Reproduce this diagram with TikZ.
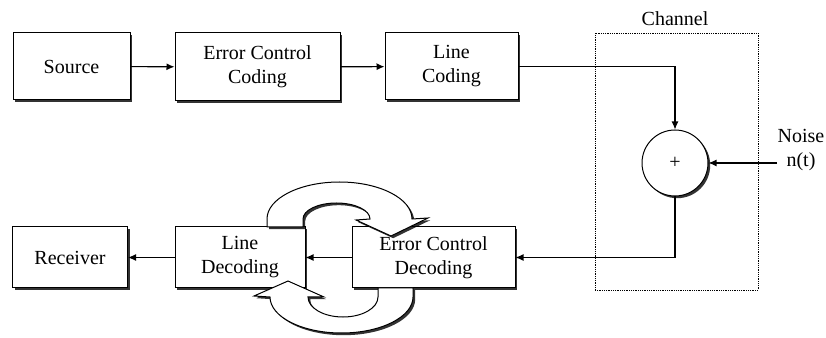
\documentclass[tikz,border=0pt]{standalone}
\usepackage{fontspec}
\setmainfont{Liberation Serif}
\usetikzlibrary{arrows.meta,shadows}
\tikzset{
  shade drop/.style={drop shadow={shadow xshift=2.2pt,shadow yshift=-2.2pt,fill=black,opacity=0.8}},
  txt/.style={font=\fontsize{20}{24}\selectfont,align=center,inner sep=0pt},
  block/.style={txt,draw=black,line width=1pt,fill=white,shade drop},
  link/.style={line width=1.1pt,-{Latex[length=8pt,width=7pt]}},
  bend arrow/.style={draw=black,line width=1pt,fill=white,shade drop},
}
\begin{document}
\begin{tikzpicture}[x=1pt,y=1pt]
\useasboundingbox (0,0) rectangle (826,337);

% transmitter chain
\node[block,minimum width=117pt,minimum height=67pt] (src) at (71.5,270.5) {Source};
\node[block,minimum width=165pt,minimum height=68pt] (ecc) at (257.5,270) {Error Control\\Coding};
\node[block,minimum width=133pt,minimum height=67pt] (lc)  at (451.5,270.5) {Line\\Coding};

% receiver chain
\node[block,minimum width=115pt,minimum height=61pt] (rcv) at (70,79.5) {Receiver};
\node[block,minimum width=130pt,minimum height=61pt] (ld)  at (240,79.5) {Line\\Decoding};
\node[block,minimum width=163pt,minimum height=61pt] (ecd) at (433.5,79.5) {Error Control\\Decoding};

% channel with additive noise
\node[draw=black,densely dotted,line width=0.8pt,minimum width=163pt,minimum height=257pt,inner sep=0pt] (chan) at (676.5,175.5) {};
\node[txt] (chanlbl) at (675,318) {Channel};
\node[txt,circle,draw=black,line width=1pt,fill=white,shade drop,minimum size=66pt] (sum) at (675,174) {+};
\node[txt] (noise) at (801,187) {Noise\\n(t)};
\coordinate (nz) at (777,174);

% connectors
\draw[link] (src) -- (ecc);
\draw[link] (ecc) -- (lc);
\draw[link] (lc.east) -- (lc.east -| sum) -- (sum.north);
\draw[link] (nz) -- (sum.east);
\draw[link] (sum.south) |- (ecd.east);
\draw[link] (ecd) -- (ld);
\draw[link] (ld) -- (rcv);

% iterative exchange between the two decoders
\draw[bend arrow] (267,110) -- (267,118)
  arc[start angle=180,end angle=0,x radius=72.5,y radius=37]
  -- (428,119) -- (391,101) -- (356,117) -- (370,118)
  arc[start angle=0,end angle=180,x radius=33.5,y radius=16]
  -- (303,110) -- cycle;
\draw[bend arrow] (413,49) -- (413,40)
  arc[start angle=0,end angle=-180,x radius=71.5,y radius=36]
  -- (254,41) -- (288,56) -- (324,40) -- (308,40)
  arc[start angle=180,end angle=360,x radius=35,y radius=20]
  -- (378,49) -- cycle;
\end{tikzpicture}
\end{document}
